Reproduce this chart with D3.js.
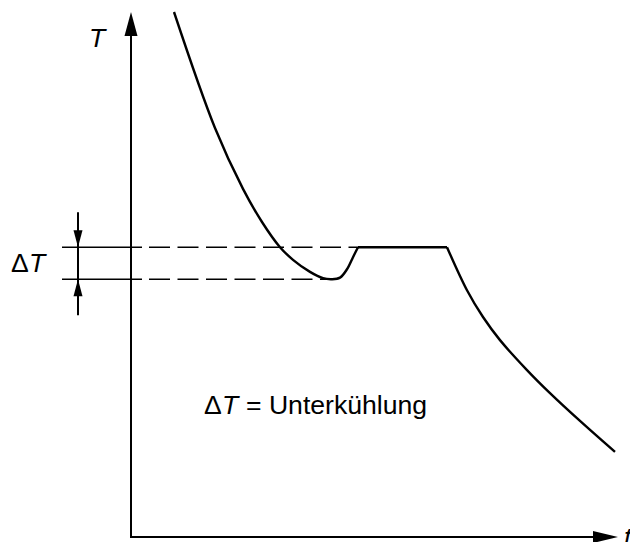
<!DOCTYPE html>
<html>
<head>
<meta charset="utf-8">
<script src="https://cdn.jsdelivr.net/npm/d3@7"></script>
<style>
  html, body { margin: 0; padding: 0; background: #fff; }
  svg { display: block; }
  text { font-family: "Liberation Sans", Arial, sans-serif; fill: #000; }
</style>
</head>
<body>
<svg id="chart" width="630" height="542"></svg>
<script>
// Abkühlkurve mit Unterkühlung (Zeit t, Temperatur T, beliebige Einheiten)
const supercoolTime = [8.6, 16.8, 22.4, 26.2, 29.8, 32.4, 35.8, 38.4, 40.2, 41.8, 43.2, 44.4, 45.4];
const supercoolTemp = [100, 77.9, 66.3, 60.0, 55.2, 52.8, 50.5, 49.3, 49.1, 49.4, 51.0, 53.3, 55.2];
const plateauTime = [45.4, 63.2];
const plateauTemp = [55.2, 55.2];
const solidTime = [63.2, 67.2, 70.4, 73.8, 79.2, 83.8, 89.8, 96.8];
const solidTemp = [55.2, 47.0, 41.9, 37.5, 31.8, 27.4, 22.1, 16.2];
const meltTemp = 55.2;      // Erstarrungstemperatur
const minTemp = 49.1;       // tiefster Punkt der Unterkühlung
const minTime = 40.2;
const axisLabels = { x: "t", y: "T" };
const legendText = "= Unterkühlung";

const svg = d3.select("#chart");
const x = d3.scaleLinear().domain([0, 100]).range([131, 631]);
const y = d3.scaleLinear().domain([0, 100]).range([537, 12]);

const ink = "#000";
const fs = 26.6;

// Achsen
svg.append("line").attr("x1", x(0)).attr("y1", y(0)).attr("x2", x(0)).attr("y2", y(100) + 20)
  .attr("stroke", ink).attr("stroke-width", 2);
svg.append("line").attr("x1", x(0) - 1).attr("y1", y(0)).attr("x2", 600).attr("y2", y(0))
  .attr("stroke", ink).attr("stroke-width", 2);

// Pfeilspitzen der Achsen
const tipY = [x(0), y(100)];
svg.append("path")
  .attr("d", `M${tipY[0]},${tipY[1]} L${tipY[0] - 6.5},${tipY[1] + 24} L${tipY[0] + 6.5},${tipY[1] + 24} Z`)
  .attr("fill", ink);
const tipX = [618, y(0)];
svg.append("path")
  .attr("d", `M${tipX[0]},${tipX[1]} L${tipX[0] - 25},${tipX[1] - 6} L${tipX[0] - 25},${tipX[1] + 6} Z`)
  .attr("fill", ink);

// Achsenbeschriftungen
svg.append("text").attr("x", 89).attr("y", 47).attr("font-size", fs).attr("font-style", "italic")
  .text(axisLabels.y);
svg.append("text").attr("x", 624).attr("y", 546).attr("font-size", fs).attr("font-style", "italic")
  .text(axisLabels.x);

// Hilfslinien für ΔT
const leftEdge = 62;
[meltTemp, minTemp].forEach(v => {
  svg.append("line").attr("x1", leftEdge).attr("x2", x(0) + 11).attr("y1", y(v)).attr("y2", y(v))
    .attr("stroke", ink).attr("stroke-width", 1.6);
});
svg.append("line").attr("x1", x(0) + 18).attr("x2", x(plateauTime[0])).attr("y1", y(meltTemp)).attr("y2", y(meltTemp))
  .attr("stroke", ink).attr("stroke-width", 1.6).attr("stroke-dasharray", "21,7.5");
svg.append("line").attr("x1", x(0) + 18).attr("x2", x(minTime) - 6).attr("y1", y(minTemp)).attr("y2", y(minTemp))
  .attr("stroke", ink).attr("stroke-width", 1.6).attr("stroke-dasharray", "21,7.5");

// Maßpfeile
const ax = 78;
svg.append("line").attr("x1", ax).attr("x2", ax).attr("y1", y(meltTemp) - 35).attr("y2", y(minTemp) + 36)
  .attr("stroke", ink).attr("stroke-width", 2);
svg.append("path")
  .attr("d", `M${ax},${y(meltTemp)} L${ax - 4.5},${y(meltTemp) - 17} L${ax + 4.5},${y(meltTemp) - 17} Z`)
  .attr("fill", ink);
svg.append("path")
  .attr("d", `M${ax},${y(minTemp)} L${ax - 4.5},${y(minTemp) + 17} L${ax + 4.5},${y(minTemp) + 17} Z`)
  .attr("fill", ink);

// ΔT-Beschriftung links
const dl = svg.append("text").attr("y", 272).attr("font-size", fs);
dl.append("tspan").attr("x", 11).text("\u0394");
dl.append("tspan").attr("x", 29).attr("font-style", "italic").text("T");

// Kurve
const smooth = d3.line().x(d => x(d[0])).y(d => y(d[1])).curve(d3.curveCatmullRom.alpha(0.5));
const straight = d3.line().x(d => x(d[0])).y(d => y(d[1]));
const seg1 = d3.zip(supercoolTime, supercoolTemp);
const seg2 = d3.zip(plateauTime, plateauTemp);
const seg3 = d3.zip(solidTime, solidTemp);
[[seg1, smooth], [seg2, straight], [seg3, smooth]].forEach(([pts, gen]) => {
  svg.append("path").attr("d", gen(pts)).attr("fill", "none")
    .attr("stroke", ink).attr("stroke-width", 2.4).attr("stroke-linejoin", "round");
});

// Erläuterung
const lg = svg.append("text").attr("y", 414).attr("font-size", fs);
lg.append("tspan").attr("x", 204).text("\u0394");
lg.append("tspan").attr("x", 222).attr("font-style", "italic").text("T");
lg.append("tspan").attr("x", 246).text(legendText);
</script>
</body>
</html>
